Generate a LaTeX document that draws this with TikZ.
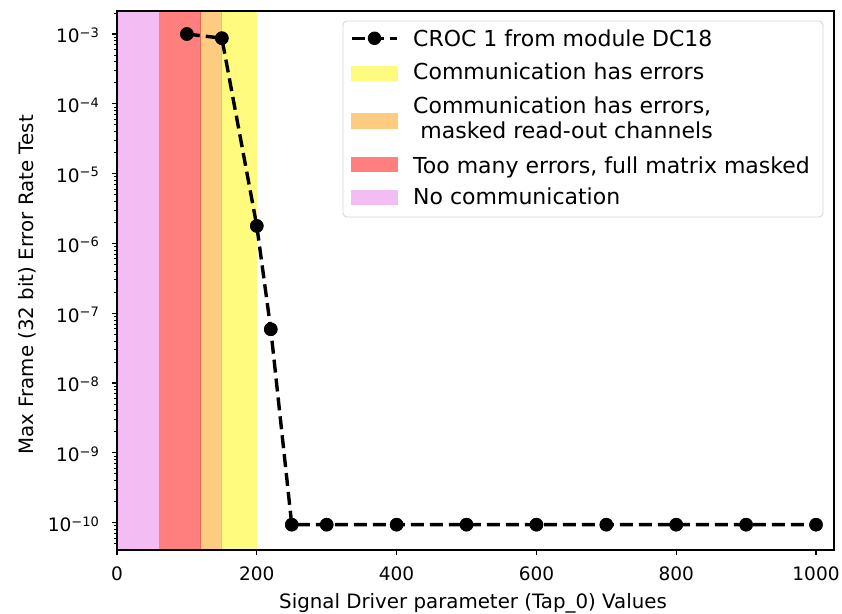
\documentclass[tikz,border=0pt]{standalone}
\usepackage{fontspec}
\setmainfont{DejaVu Sans}
\definecolor{bandpink}{RGB}{243,189,243}
\definecolor{bandred}{RGB}{255,126,126}
\definecolor{bandorange}{RGB}{253,204,128}
\definecolor{bandyellow}{RGB}{255,251,126}
\definecolor{legendedge}{RGB}{214,214,214}
\tikzset{
  datamark/.style={circle,fill=black,draw=none,minimum size=13.5pt,inner sep=0pt},
  dataline/.style={line width=3.4pt,dash pattern=on 13pt off 6pt},
  ticklabel/.style={inner sep=0pt,font=\fontsize{18.5}{18.5}\selectfont},
  axislabel/.style={inner sep=0pt,font=\fontsize{19.8}{19.8}\selectfont},
  legendtext/.style={inner sep=0pt,anchor=base west,font=\fontsize{22}{25}\selectfont},
  legendpatch/.style={draw=none,minimum width=47pt,minimum height=15.5pt,inner sep=0pt},
  frame/.style={line width=1.4pt},
  majortick/.style={line width=1.2pt},
  minortick/.style={line width=0.9pt},
}
\newcommand{\expo}[1]{10\raisebox{5.5pt}{\fontsize{13}{13}\selectfont −#1}}
\begin{document}
\begin{tikzpicture}[x=1pt,y=1pt]
\useasboundingbox (0,0) rectangle (842,613);
\fill[white] (0,0) rectangle (842,613);

% data area: x in parameter units, y in log10(rate)+3
\begin{scope}[x=0.699pt,y=69.8pt,shift={(117pt,579pt)}]
  % coloured bands
  \fill[bandpink]   (0,-7.39)   rectangle (60,0.33);
  \fill[bandred]    (60,-7.39)  rectangle (120,0.33);
  \fill[bandorange] (120,-7.39) rectangle (150,0.33);
  \fill[bandyellow] (150,-7.39) rectangle (200,0.33);
  \draw[line width=1.1pt,draw={rgb,255:red,228;green,104;blue,84}] (120,-7.39) -- (120,0.33);
  \draw[line width=0.9pt,draw={rgb,255:red,246;green,190;blue,96}] (150,-7.39) -- (150,0.33);

  % measured points
  \node[datamark] (p1)  at (100,0) {};
  \node[datamark] (p2)  at (150,-0.06) {};
  \node[datamark] (p3)  at (200,-2.75) {};
  \node[datamark] (p4)  at (220,-4.23) {};
  \node[datamark] (p5)  at (250,-7.03) {};
  \node[datamark] (p6)  at (300,-7.03) {};
  \node[datamark] (p7)  at (400,-7.03) {};
  \node[datamark] (p8)  at (500,-7.03) {};
  \node[datamark] (p9)  at (600,-7.03) {};
  \node[datamark] (p10) at (700,-7.03) {};
  \node[datamark] (p11) at (800,-7.03) {};
  \node[datamark] (p12) at (900,-7.03) {};
  \node[datamark] (p13) at (1000,-7.03) {};
  \draw[dataline] (p1.center) -- (p2.center) -- (p3.center) -- (p4.center)
    -- (p5.center) -- (p6.center) -- (p7.center) -- (p8.center) -- (p9.center)
    -- (p10.center) -- (p11.center) -- (p12.center) -- (p13.center);
  \foreach \i in {1,...,13} \fill (p\i) circle (6.75pt);

  % frame
  \draw[frame] (0,-7.39) rectangle (1025.8,0.33);

  % x ticks and labels
  \foreach \v in {0,200,400,600,800,1000} {
    \draw[majortick] (\v,-7.39) -- ++(0,-5.5pt);
    \node[ticklabel,anchor=north] (xt\v) at ([yshift=-17pt]\v,-7.39) {\v};
  }

  % y major ticks and labels
  \foreach \e in {3,...,10} {
    \pgfmathtruncatemacro\L{3-\e}
    \draw[majortick] (0,\L) -- ++(-5.5pt,0);
    \node[ticklabel,anchor=east] (yt\e) at ([xshift=-18pt,yshift=-1.5pt]0,\L) {\expo{\e}};
  }
  % y minor ticks
  \foreach \d in {-8,...,0} {
    \foreach \k in {2,...,9} {
      \pgfmathsetmacro\L{\d+log10(\k)}
      \ifdim\L pt<0.33pt \ifdim\L pt>-7.39pt
        \draw[minortick] (0,\L) -- ++(-3.2pt,0);
      \fi\fi
    }
  }
\end{scope}

% axis titles
\node[axislabel,anchor=base] (xlabel) at (473,5) {Signal Driver parameter (Tap\_0) Values};
\node[axislabel,anchor=base,rotate=90] (ylabel) at (33,328) {Max Frame (32 bit) Error Rate Test};

% legend
\draw[legendedge,line width=0.9pt,fill=white,fill opacity=0.8,rounded corners=4pt]
  (343,396) rectangle (823,592);
\coordinate (la) at (352,574.7);
\coordinate (lb) at (397,574.7);
\draw[dataline] (la) -- (lb);
\node[datamark] (lm) at (374.5,574.7) {};
\node[legendtext] (t1) at (413,566.3) {CROC 1 from module DC18};

\node[legendpatch,fill=bandyellow] (k2) at (374.5,539.3) {};
\node[legendtext] (t2) at (413,533) {Communication has errors};

\node[legendpatch,fill=bandorange] (k3) at (374.5,492) {};
\node[legendtext] (t3a) at (413,499.7) {Communication has errors,};
\node[legendtext] (t3b) at (413,474.7) {\hspace*{0.33em}masked read-out channels};

\node[legendpatch,fill=bandred] (k4) at (374.5,448.3) {};
\node[legendtext] (t4) at (413,439.7) {Too many errors, full matrix masked};

\node[legendpatch,fill=bandpink] (k5) at (374.5,415.5) {};
\node[legendtext] (t5) at (413,408) {No communication};
\end{tikzpicture}
\end{document}
